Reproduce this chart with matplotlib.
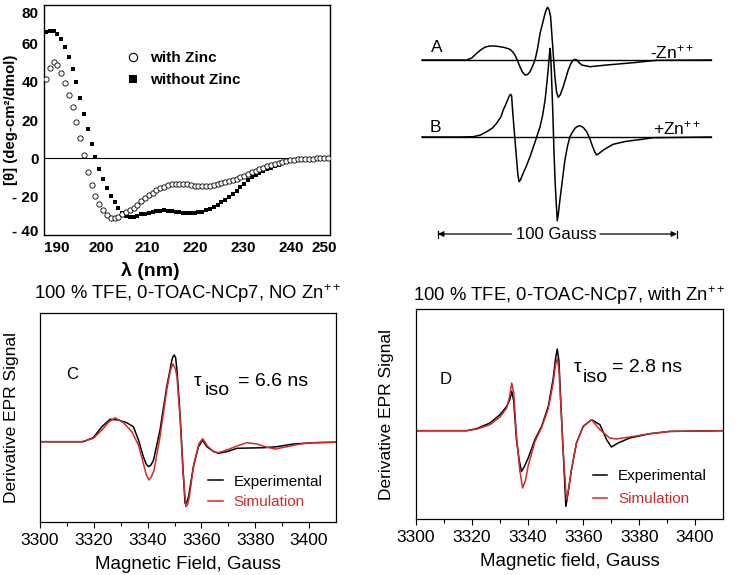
import matplotlib
matplotlib.use("Agg")
import matplotlib.pyplot as plt
from matplotlib import font_manager
from matplotlib.lines import Line2D
from matplotlib.transforms import ScaledTranslation

plt.rcParams['font.family'] = ['Liberation Sans', 'DejaVu Sans']
plt.rcParams['mathtext.fontset'] = 'custom'
plt.rcParams['mathtext.rm'] = 'Liberation Sans'
plt.rcParams['mathtext.it'] = 'Liberation Sans:italic'
plt.rcParams['mathtext.bf'] = 'Liberation Sans:bold'

# narrow bold digits on the CD axes, if that face is installed
_names = {f.name for f in font_manager.fontManager.ttflist}
NARROW = 'Liberation Sans Narrow' if 'Liberation Sans Narrow' in _names else 'Liberation Sans'
CD_TICK_SIZE = 11.7 if NARROW == 'Liberation Sans Narrow' else 11

RED = '#d42a2a'

# ---------------- CD spectra (top left) ----------------
wl = [190.4, 191.2, 192.0, 192.8, 193.6, 194.4, 195.2, 196.0, 196.8, 197.6,
      198.4, 199.2, 200.0, 200.8, 201.6, 202.4, 203.2, 204.0, 204.8, 205.6,
      206.4, 207.2, 208.0, 208.8, 209.6, 210.4, 211.2, 212.0, 212.8, 213.6,
      214.4, 215.2, 216.0, 216.8, 217.6, 218.4, 219.2, 220.0, 220.8, 221.6,
      222.4, 223.2, 224.0, 224.8, 225.6, 226.4, 227.2, 228.0, 228.8, 229.6,
      230.4, 231.2, 232.0, 232.8, 233.6, 234.4, 235.2, 236.0, 236.8, 237.6,
      238.4, 239.2, 240.0, 240.8, 241.6, 242.4, 243.2, 244.0, 244.8, 245.6,
      246.4, 247.2, 248.0, 248.8, 249.6]
cd_with_zn = [41.5, 47.3, 50.3, 48.8, 44.6, 39.3, 33.0, 26.6, 19.2, 10.7,
              1.8, -7.2, -14.0, -19.8, -24.0, -27.0, -29.4, -30.9, -31.2, -30.5,
              -29.0, -28.0, -27.2, -25.9, -24.2, -22.4, -20.7, -19.2, -17.9, -16.7,
              -15.7, -14.8, -14.1, -13.6, -13.3, -13.2, -13.3, -13.6, -13.9, -14.2,
              -14.4, -14.5, -14.5, -14.3, -13.9, -13.5, -13.0, -12.6, -12.0, -11.3,
              -10.6, -9.8, -9.0, -8.2, -7.3, -6.5, -5.7, -4.9, -4.1, -3.4,
              -2.8, -2.3, -1.8, -1.3, -1.0, -0.7, -0.5, -0.4, -0.3, -0.2,
              -0.1, 0.0, 0.0, 0.0, 0.0]
cd_no_zn = [65.7, 66.5, 66.3, 65.0, 62.3, 58.3, 53.0, 46.6, 39.6, 31.5,
            23.2, 15.3, 7.5, 0.5, -5.5, -10.6, -15.3, -19.4, -23.0, -26.0,
            -28.4, -30.0, -30.5, -30.4, -29.9, -29.3, -28.8, -28.4, -28.0, -27.6,
            -27.3, -27.2, -27.3, -27.6, -27.9, -28.2, -28.4, -28.5, -28.5, -28.4,
            -28.2, -27.8, -27.2, -26.4, -25.3, -24.2, -23.0, -21.6, -20.4, -18.8,
            -17.1, -15.2, -13.3, -11.4, -9.8, -8.6, -7.6, -6.6, -5.7, -4.8,
            -4.0, -3.3, -2.6, -2.0, -1.5, -1.1, -0.8, -0.6, -0.4, -0.3,
            -0.2, -0.1, 0.0, 0.0, 0.0]
cd_xticks = [190, 200, 210, 220, 230, 240, 250]
cd_yticks = [80, 60, 40, 20, 0, -20, -40]
cd_yticklabels = ['80', '60', '40', '20', '0', '- 20', '- 40']

# ---------------- EPR traces A / B (top right), field in Gauss from trace start ----------------
a_g = [0, 18.7, 20.8, 22.9, 24.5, 26.5, 28.5, 30.5, 32.6, 34.5, 36.8, 38.0, 38.9, 40.0,
       41.0, 42.0, 43.1, 44.2, 45.2, 46.3, 47.3, 48.4, 49.4, 50.5, 51.5, 52.1, 52.6, 53.2,
       53.8, 54.7, 55.6, 56.3, 57.0, 57.8, 59.1, 61.2, 62.2, 63.3, 64.4, 65.5, 66.8, 70.3,
       77.3, 88.4, 98.2, 121]
a_amp = [0, 0, 2, 6.7, 10, 13, 14, 14, 13.3, 12.5, 10.7, 8, 5, -1,
         -6.7, -12, -15, -14.5, -11.7, -6, 0, 12, 26.7, 37, 46.7, 51, 52.7, 50,
         43.3, 13.3, -16.7, -32, -37.3, -35, -26.7, -10, -4, 0, 0.7, -2, -5, -6.7,
         -5, -2.7, -0.3, 0]
b_g = [0, 15.9, 21.5, 24.5, 27.1, 29.5, 31.2, 33.0, 34.0, 35.5, 36.5, 37.1, 37.5, 37.9,
       38.8, 39.6, 40.1, 40.6, 41.2, 42.0, 43.5, 45.2, 47.3, 49.4, 50.5, 51.5, 52.3, 52.9,
       53.3, 53.6, 53.9, 54.3, 54.8, 55.2, 55.7, 56.1, 56.6, 57.1, 57.7, 58.8, 59.8, 60.9,
       61.9, 63.0, 64.0, 65.0, 66.1, 67.5, 68.9, 70.2, 71.4, 72.3, 73.1, 74.3, 75.9, 78.0,
       80.0, 85.0, 89.8, 96.8, 121]
b_amp = [0, 0, 0.3, 2, 5.3, 9, 13.7, 20, 27, 35, 41, 42.7, 41, 27,
         0, -23, -37, -44.7, -43, -38, -30, -19.7, -5, 10.3, 22, 37, 55, 70.3,
         82, 88.7, 80, 53.7, 20, -13, -45, -63, -83.7, -76, -63, -42, -23, -9,
         0.3, 5, 8.7, 10.5, 11.3, 9.5, 5.3, -1.5, -9.7, -15, -18, -16, -13, -10,
         -7.3, -4.5, -3, -0.7, 0]
trace_offsets = [200, 123]

# ---------------- EPR C: no Zn ----------------
c_field_exp = [3300, 3316.1, 3319.8, 3323.0, 3326.0, 3329.1, 3332.2, 3334.7, 3336.6, 3338.4,
               3339.4, 3340.3, 3341.2, 3342.2, 3344.6, 3347.1, 3348.2, 3349.0, 3349.5, 3349.9,
               3350.4, 3350.9, 3352.1, 3353.1, 3353.9, 3354.5, 3355.2, 3357.0, 3358.9, 3360.4,
               3362.0, 3364.2, 3366.3, 3369.4, 3373.2, 3383.1, 3388.0, 3394.2, 3401.7, 3410]
c_exp = [0, 0, 4, 15, 22.4, 21.7, 19, 15, 1.7, -15,
         -22, -25, -23.5, -18.3, 11.7, 55, 70, 81.7, 85.5, 86.7,
         84, 71.7, 25, -25, -61.7, -61, -55, -25, -5, 1.7,
         -5, -9.3, -11.6, -10, -6.6, -6, -5, -2.3, -1, -0.5]
c_field_sim = [3300, 3315.5, 3319.8, 3323.0, 3325.5, 3327.9, 3331.0, 3334.1, 3336.6, 3338.4,
               3339.5, 3340.5, 3341.4, 3342.4, 3344.6, 3347.1, 3348.5, 3349.4, 3350.3, 3350.9,
               3352.1, 3353.1, 3354.2, 3354.8, 3355.5, 3357.2, 3359.1, 3360.5, 3362.2, 3364.5,
               3366.3, 3369.4, 3373.2, 3376.9, 3380.6, 3384.4, 3387.4, 3391.8, 3396.7, 3401.7,
               3410]
c_sim = [0, 0, 3.3, 11.7, 19.5, 24, 19, 10, -3.3, -21.7,
         -33, -38.3, -35, -28.3, 5, 51.7, 72, 77.7, 73, 65,
         21.7, -28.3, -65, -63, -55, -21.7, -1.7, 3, -4.3, -10,
         -11, -8.3, -4.3, -1, -2.3, -5.6, -7.3, -5, -2.3, -1,
         -0.5]

# ---------------- EPR D: with Zn ----------------
d_field_exp = [3300, 3318.1, 3321.7, 3326.5, 3330.1, 3332.5, 3333.6, 3334.3, 3335.0, 3336.0,
               3337.0, 3337.8, 3338.8, 3340.2, 3342.6, 3345.0, 3347.4, 3349.1, 3350.0, 3350.6,
               3351.2, 3351.8, 3352.7, 3353.7, 3354.5, 3355.7, 3357.5, 3359.9, 3362.9, 3365.9,
               3368.3, 3370.0, 3372.4, 3376.6, 3383.8, 3390.9, 3410]
d_exp = [0, 0, 2, 7.7, 16, 24.3, 31, 39.3, 30, -9,
         -30, -40.7, -36, -27.3, -9, 4.3, 24.3, 51, 72, 81.7,
         70, 34.3, -19, -75.7, -62, -39, -12.3, 4.3, 11, 6,
         -9, -16.3, -12.3, -7.3, -3, -0.7, 0]
d_field_sim = [3300, 3318.1, 3321.7, 3326.5, 3330.1, 3332.5, 3333.6, 3334.3, 3335.0, 3336.0,
               3337.2, 3338.2, 3339.2, 3340.2, 3342.6, 3345.0, 3347.4, 3349.1, 3350.0, 3350.6,
               3351.2, 3351.8, 3352.7, 3353.9, 3354.7, 3355.7, 3357.5, 3359.9, 3362.9, 3365.9,
               3369.4, 3371.8, 3376.6, 3383.8, 3390.9, 3410]
d_sim = [0, 0, 1.5, 6, 13.7, 22.7, 35, 47.7, 38, -5,
         -40, -57.3, -50, -35, -11, 3, 22, 47, 66, 71.7,
         62, 30, -19, -69, -58, -39, -12.3, 4.3, 11, 1,
         -7.3, -8.3, -6.3, -3, -0.7, 0]

epr_xticks = [3300, 3320, 3340, 3360, 3380, 3400]

W, H = 737, 575


def box(x0, y0, x1, y1):
    # pixel rectangle -> figure fraction
    return [x0 / W, 1 - y1 / H, (x1 - x0) / W, (y1 - y0) / H]


fig = plt.figure(figsize=(W / 100, H / 100), dpi=100)

#########################
# CD panel
ax = fig.add_axes(box(44, 5, 330, 235))
ax.plot(wl, cd_no_zn, 's', color='k', ms=3.0, mew=0, zorder=3)
ax.plot(wl, cd_with_zn, 'o', mfc='white', mec='k', ms=3.8, mew=0.6, zorder=4)
ax.axhline(0, color='k', lw=0.8, zorder=1)
ax.set_xlim(190, 250)
ax.set_ylim(-40, 80)
ax.set_xticks(cd_xticks)
ax.set_yticks(cd_yticks)
ax.set_yticklabels(cd_yticklabels)
ax.tick_params(length=0, labelsize=CD_TICK_SIZE, pad=4)
for lab in ax.get_xticklabels() + ax.get_yticklabels():
    lab.set_fontweight('bold')
    lab.set_family([NARROW, 'Liberation Sans'])
for lab, dx in zip(ax.get_xticklabels(), [13, 10, 8, 8.5, 8.5, 8.5, -6]):
    lab.set_transform(lab.get_transform() + ScaledTranslation(dx / 100, 0, fig.dpi_scale_trans))
for lab, dy in zip(ax.get_yticklabels(), [-8, 0, 0, 0, 0, 0, 5]):
    lab.set_transform(lab.get_transform() + ScaledTranslation(0, dy / 100, fig.dpi_scale_trans))
for s in ax.spines.values():
    s.set_linewidth(1.0)
ax.set_xlabel('λ (nm)', fontsize=14, fontweight='bold')
ax.xaxis.set_label_coords(0.37, -0.118)
ax.set_ylabel('[θ] (deg-cm²/dmol)', fontsize=10.8, fontweight='bold', va='center')
ax.yaxis.set_label_coords(-0.114, 0.5)
handles = [Line2D([], [], ls='', marker='o', mfc='white', mec='k', ms=6, mew=0.8),
           Line2D([], [], ls='', marker='s', color='k', ms=5.5, mew=0)]
ax.legend(handles, ['with Zinc', 'without Zinc'], loc='upper left',
          bbox_to_anchor=(0.29, 0.80), frameon=False, handlelength=0.8,
          handletextpad=0.7, labelspacing=0.55, borderpad=0, borderaxespad=0,
          prop={'weight': 'bold', 'size': 11})

#########################
# EPR traces A and B
ax2 = fig.add_axes(box(400, 0, 737, 260))
ax2.set_xlim(-9.2, 131.8)
ax2.set_ylim(0, 260)
ax2.axis('off')
for g, amp, off in [(a_g, a_amp, trace_offsets[0]), (b_g, b_amp, trace_offsets[1])]:
    ax2.plot([0, 121], [off, off], color='k', lw=1.0)
    ax2.plot(g, [v + off for v in amp], color='k', lw=1.1)
ax2.text(6.3, 212, 'A', fontsize=12.5, ha='center', va='center')
ax2.text(5.4, 132, 'B', fontsize=12.5, ha='center', va='center')
ax2.text(95.4, 208, '-Zn$^{++}$', fontsize=12.5, ha='left', va='center')
ax2.text(96.7, 132, '+Zn$^{++}$', fontsize=12.5, ha='left', va='center')
ybar = 26
ax2.annotate('', xy=(6.7, ybar), xytext=(37.5, ybar),
             arrowprops=dict(arrowstyle='-|>', color='k', lw=0.9, mutation_scale=8,
                             shrinkA=0, shrinkB=0))
ax2.annotate('', xy=(106.7, ybar), xytext=(74.5, ybar),
             arrowprops=dict(arrowstyle='-|>', color='k', lw=0.9, mutation_scale=8,
                             shrinkA=0, shrinkB=0))
ax2.plot([6.7, 6.7], [ybar - 3.5, ybar + 3.5], color='k', lw=0.9)
ax2.plot([106.7, 106.7], [ybar - 3.5, ybar + 3.5], color='k', lw=0.9)
ax2.text(56, ybar, '100 Gauss', fontsize=12, ha='center', va='center')


#########################
# EPR C / D panels
def epr_panel(rect, fx, fy, sx, sy, ylim, title, xlabel, letter, letter_xy, tau,
              tau_x, tau_y, iso_y, leg_xy, leg_space, title_pad):
    a = fig.add_axes(rect)
    a.plot(fx, fy, color='k', lw=1.1, label='Experimental')
    a.plot(sx, sy, color=RED, lw=1.1, label='Simulation')
    a.set_xlim(3300, 3410)
    a.set_ylim(*ylim)
    a.set_xticks(epr_xticks)
    a.set_xticks(range(3310, 3410, 20), minor=True)
    a.set_yticks([])
    a.tick_params(axis='x', which='major', direction='out', length=4, width=0.8,
                  labelsize=12.5, pad=4)
    a.tick_params(axis='x', which='minor', direction='out', length=3, width=0.8)
    for s in a.spines.values():
        s.set_linewidth(0.9)
    a.set_title(title, fontsize=13.3, pad=title_pad)
    a.set_xlabel(xlabel, fontsize=13.5, labelpad=6)
    a.set_ylabel('Derivative EPR Signal', fontsize=12.5, va='center')
    a.yaxis.set_label_coords(-0.095, 0.5)
    a.text(*letter_xy, letter, fontsize=12, ha='center', va='center', transform=a.transAxes)
    # tau_iso annotation: symbol, subscript, value
    a.text(tau_x[0], tau_y, 'τ', fontsize=14, ha='left', va='baseline', transform=a.transAxes)
    a.text(tau_x[1], iso_y, 'iso', fontsize=14, ha='left', va='baseline',
           transform=a.transAxes)
    a.text(tau_x[2], tau_y, '= ' + tau, fontsize=14, ha='left', va='baseline',
           transform=a.transAxes)
    a.legend(loc='upper left', bbox_to_anchor=leg_xy, frameon=False, handlelength=0.95,
             handletextpad=0.7, labelspacing=leg_space, borderpad=0, borderaxespad=0,
             fontsize=11, labelcolor='linecolor')
    return a


epr_panel(box(40, 313, 336, 522), c_field_exp, c_exp, c_field_sim, c_sim, (-80.3, 128.7),
          '100 % TFE, 0-TOAC-NCp7, NO Zn$^{++}$', 'Magnetic Field, Gauss',
          'C', (0.107, 0.707), '6.6 ns', (0.521, 0.557, 0.670), 0.651, 0.608,
          (0.568, 0.226), 0.43, 10)
epr_panel(box(416, 309, 723, 519), d_field_exp, d_exp, d_field_sim, d_sim, (-88.3, 121.7),
          '100 % TFE, 0-TOAC-NCp7, with Zn$^{++}$', 'Magnetic field, Gauss',
          'D', (0.098, 0.663), '2.8 ns', (0.514, 0.544, 0.640), 0.701, 0.652,
          (0.576, 0.236), 0.56, 6)

fig.savefig('out.png', dpi=100)
